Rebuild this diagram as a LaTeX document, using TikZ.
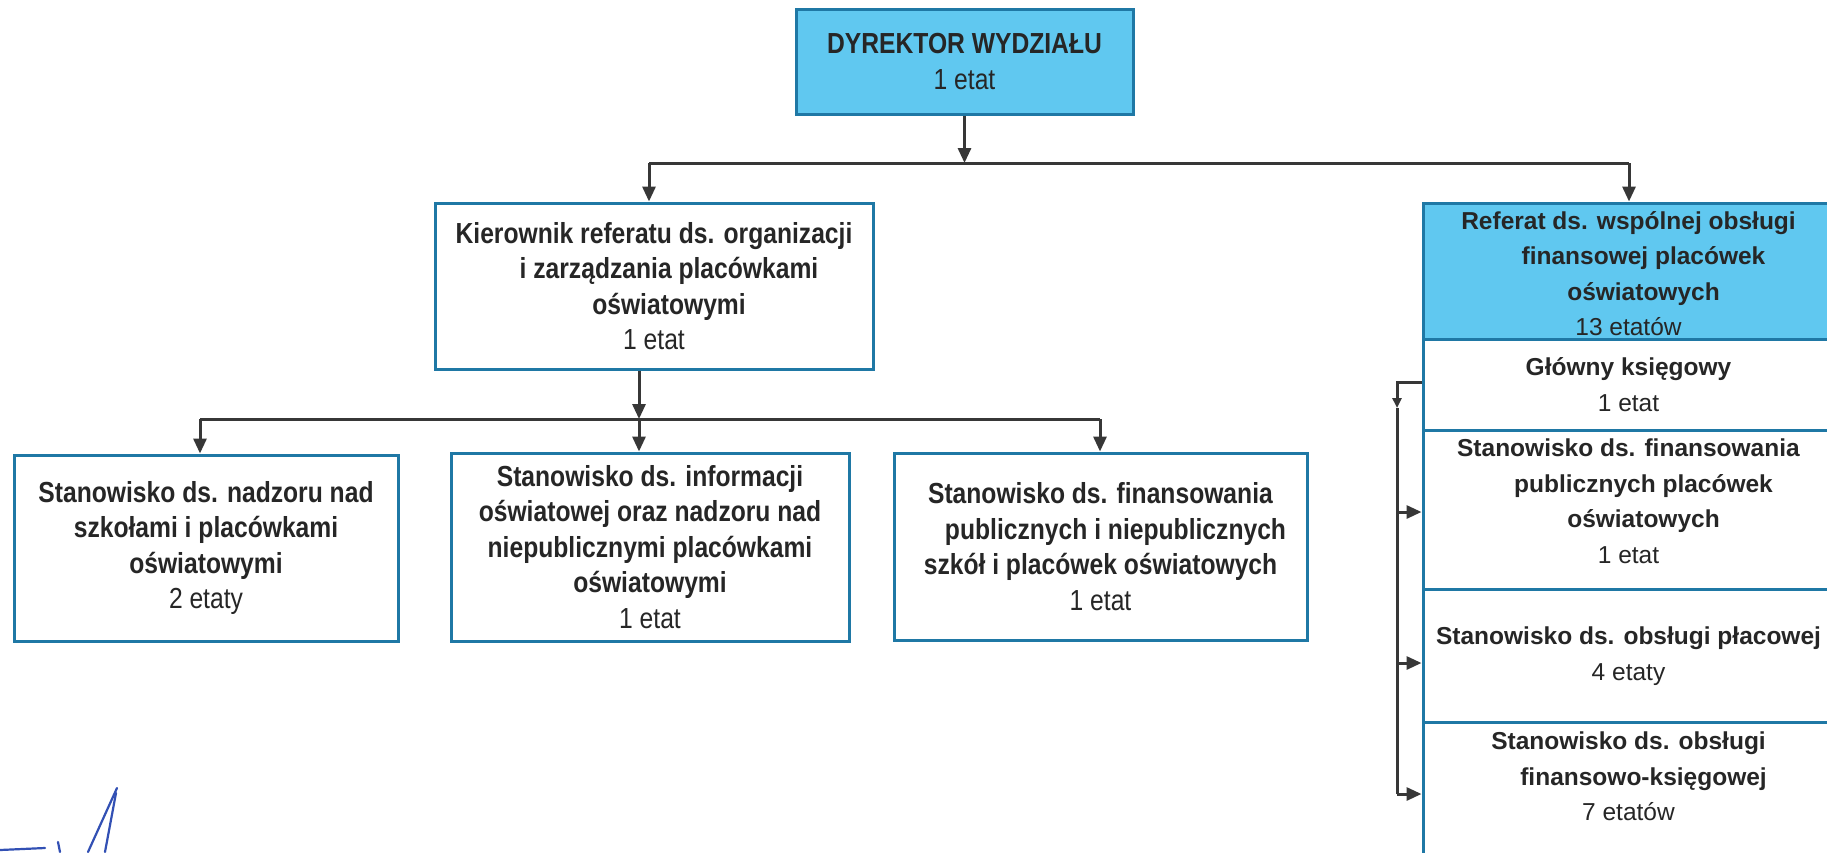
\documentclass[tikz,border=0pt]{standalone}
\usepackage{fontspec}
\setmainfont{Liberation Sans}
\newfontfamily\nar[FakeStretch=0.85]{Liberation Sans}
\usetikzlibrary{arrows.meta}
\definecolor{boxblue}{RGB}{96,200,240}
\definecolor{boxline}{RGB}{31,120,165}
\definecolor{ink}{RGB}{38,38,38}
\definecolor{connc}{RGB}{55,55,55}
\definecolor{sigc}{RGB}{50,80,180}
\begin{document}
\begin{tikzpicture}[x=1pt,y=-1pt,
  box/.style={draw=boxline, line width=3pt, rectangle, inner sep=0pt, align=center, text=ink},
  topbox/.style={box, font=\nar\fontsize{29}{35.5}\selectfont},
  cellbox/.style={draw=boxline, line width=3pt, rectangle, inner sep=0pt, minimum width=410pt},
  celltext/.style={align=center, text=ink, inner sep=0pt, font=\fontsize{24.5}{35.5}\selectfont},
  conn/.style={draw=connc, line width=3pt},
  arr/.style={conn, -{Triangle[length=15pt,width=13pt]}},
  sarr/.style={conn, -{Triangle[length=10pt,width=9pt]}},
  sig/.style={draw=sigc, line width=2.2pt, line cap=round},
]
\clip (0,0) rectangle (1827,852);
\fill[white] (0,0) rectangle (1827,852);

% top
\node[topbox, fill=boxblue, minimum width=337pt, minimum height=105pt] (dir) at (964.5,61.5)
  {\textbf{DYREKTOR WYDZIAŁU}\\1 etat};

\node[topbox, minimum width=438pt, minimum height=166pt] (kier) at (654,286)
  {\textbf{Kierownik referatu ds. organizacji}\\\hspace*{30pt}\textbf{i zarządzania placówkami}\\\hspace*{30pt}\textbf{oświatowymi}\\1 etat};

\node[topbox, minimum width=384pt, minimum height=186pt] (b1) at (206,548)
  {\textbf{Stanowisko ds. nadzoru nad}\\\textbf{szkołami i placówkami}\\\textbf{oświatowymi}\\2 etaty};
\node[topbox, minimum width=398pt, minimum height=188pt] (b2) at (650,547)
  {\textbf{Stanowisko ds. informacji}\\\textbf{oświatowej oraz nadzoru nad}\\\textbf{niepublicznymi placówkami}\\\textbf{oświatowymi}\\1 etat};
\node[topbox, minimum width=413pt, minimum height=187pt] (b3) at (1100.5,546.5)
  {\textbf{Stanowisko ds. finansowania}\\\hspace*{30pt}\textbf{publicznych i niepublicznych}\\\textbf{szkół i placówek oświatowych}\\1 etat};

% right column
\node[cellbox, fill=boxblue, minimum height=136pt] (ref) at (1628,271) {};
\node[cellbox, minimum height=91pt] (c1) at (1628,384.5) {};
\node[cellbox, minimum height=159pt] (c2) at (1628,509.5) {};
\node[cellbox, minimum height=133pt] (c3) at (1628,655.5) {};
\node[cellbox, minimum height=150pt] (c4) at (1628,797) {};

\node[celltext] (t0) at (1628.5,273.5)
  {\textbf{Referat ds. wspólnej obsługi}\\\hspace*{30pt}\textbf{finansowej placówek}\\\hspace*{30pt}\textbf{oświatowych}\\13 etatów};
\node[celltext] (t1) at (1628.5,384.5) {\textbf{Główny księgowy}\\1 etat};
\node[celltext] (t2) at (1628.5,501)
  {\textbf{Stanowisko ds. finansowania}\\\hspace*{30pt}\textbf{publicznych placówek}\\\hspace*{30pt}\textbf{oświatowych}\\1 etat};
\node[celltext] (t3) at (1628.5,656) {\textbf{Stanowisko ds. obsługi płacowej}\\4 etaty};
\node[celltext] (t4) at (1628.5,776.5)
  {\textbf{Stanowisko ds. obsługi}\\\hspace*{30pt}\textbf{finansowo-księgowej}\\7 etatów};

% connectors top level
\coordinate (busL) at (649,163);
\coordinate (busR) at (1629,163);
\draw[conn] (busL) -- (busR);
\draw[arr] (dir.south) -- (dir.south |- busL);
\draw[arr] (busL) -- (busL |- kier.north);
\draw[arr] (busR) -- (busR |- ref.north);

% connectors second level
\coordinate (k2) at (639,419);
\coordinate (bus2L) at (200,419);
\coordinate (bus2R) at (1100,419);
\draw[conn] (bus2L) -- (bus2R);
\draw[arr] (kier.south -| k2) -- (k2);
\draw[arr] (k2) -- (k2 |- b2.north);
\draw[arr] (bus2L) -- (bus2L |- b1.north);
\draw[arr] (bus2R) -- (bus2R |- b3.north);

% right column connectors
\coordinate (rv) at (1397,408);
\coordinate (a2) at (1397,512);
\coordinate (a3) at (1397,663);
\coordinate (a4) at (1397,794);
\draw[sarr] ([yshift=2pt]c1.west) -| (rv);
\draw[conn] (rv) -- (a4);
\draw[arr] (a2) -- (a2 -| c2.west);
\draw[arr] (a3) -- (a3 -| c3.west);
\draw[arr] (a4) -- (a4 -| c4.west);

% signature
\draw[sig] (117,788) -- (88,852);
\draw[sig] (116,793) -- (105,852);
\draw[sig] (58,842) -- (60,852);
\draw[sig] (0,850) -- (45,848);
\end{tikzpicture}
\end{document}
